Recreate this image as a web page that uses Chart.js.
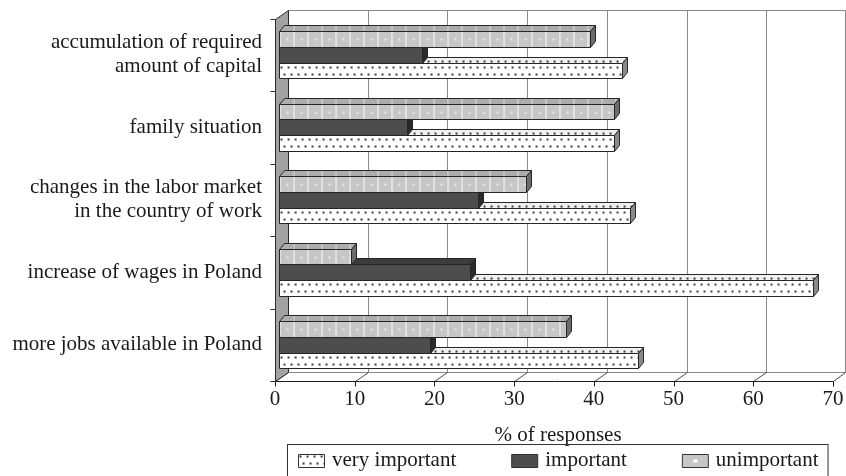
<!DOCTYPE html>
<html><head><meta charset="utf-8">
<script src="https://cdn.jsdelivr.net/npm/chart.js@4.4.1/dist/chart.umd.min.js"></script>
<style>html,body{margin:0;padding:0;background:#fff;}#wrap{width:846px;height:476px;}</style>
</head><body><div id="wrap"><canvas id="c" width="846" height="476"></canvas></div>
<script>
// ---------- data ----------
const categories = [
  ["accumulation of required", "amount of capital"],
  "family situation",
  ["changes in the labor market", "in the country of work"],
  "increase of wages in Poland",
  "more jobs available in Poland"
];
const seriesNames = ["unimportant", "important", "very important"];
const unimportant   = [39, 42, 31, 9, 36];
const important     = [18, 16, 25, 24, 19];
const veryImportant = [43, 42, 44, 67, 45];
const xMin = 0, xMax = 70, xStep = 10;
const axisTitle = "% of responses";

// ---------- styling ----------
const FONT = "'Liberation Serif', 'Times New Roman', serif";
const FS = 21;
const BAR_DX = 5, BAR_DY = 6;          // bar depth
const WALL_FRONT = -4, WALL_BACK = 9;   // x offset of front axis / back wall relative to bar plane
const FLOOR_DY = 9, TOP_DY = 8.5;

function makeTile(w, h, draw) {
  const c = document.createElement('canvas'); c.width = w; c.height = h;
  const g = c.getContext('2d'); draw(g); return c;
}
const tileUn = makeTile(14, 40, g => {
  g.fillStyle = '#c6c6c6'; g.fillRect(0, 0, 14, 40);
  g.fillStyle = '#ffffff'; g.fillRect(0, 0, 1, 40);
  g.fillStyle = '#eeeeee'; g.fillRect(7, 7, 2, 2);
});
const tileVI = makeTile(7, 14, g => {
  g.fillStyle = '#ffffff'; g.fillRect(0, 0, 7, 14);
  g.fillStyle = '#444444'; g.fillRect(1, 3, 2, 2); g.fillRect(4, 10, 2, 2);
});

const canvas = document.getElementById('c');
const ctx0 = canvas.getContext('2d');
const patUn = ctx0.createPattern(tileUn, 'repeat');
const patVI = ctx0.createPattern(tileVI, 'repeat');

const seriesStyle = {
  "unimportant":    {front: patUn, top: patUn, topShade: 'rgba(0,0,0,0.13)', end: '#6c6c6c'},
  "important":      {front: '#4d4d4d', top: '#3c3c3c', topShade: null, end: '#2a2a2a'},
  "very important": {front: patVI, top: patVI, topShade: 'rgba(0,0,0,0.06)', end: '#8a8a8a'}
};
const seriesValues = [unimportant, important, veryImportant];

function poly(ctx, pts) {
  ctx.beginPath(); ctx.moveTo(pts[0][0], pts[0][1]);
  for (let i = 1; i < pts.length; i++) ctx.lineTo(pts[i][0], pts[i][1]);
  ctx.closePath();
}
function line(ctx, x1, y1, x2, y2) { ctx.beginPath(); ctx.moveTo(x1, y1); ctx.lineTo(x2, y2); ctx.stroke(); }
function setFill(ctx, f, ox, oy) {
  if (f instanceof CanvasPattern) f.setTransform(new DOMMatrix([1, 0, 0, 1, ox, oy]));
  ctx.fillStyle = f;
}

const threeD = {
  id: 'threeD',
  beforeDatasetsDraw(chart) {
    const {ctx, chartArea: a, scales: {x, y}} = chart;
    const fx = v => Math.round(x.getPixelForValue(v) + WALL_FRONT) + 0.5;
    const bx = v => Math.min(Math.round(x.getPixelForValue(v) + WALL_BACK) + 0.5, chart.width - 0.5);
    const floorF = Math.round(a.bottom) + 0.5, floorB = Math.round(a.bottom - FLOOR_DY) + 0.5;
    const topF = Math.round(a.top) + 0.5, topB = Math.round(a.top - TOP_DY) + 0.5;
    ctx.save();
    ctx.lineWidth = 1;
    ctx.strokeStyle = '#8a8a8a';
    for (let v = xMin; v <= xMax; v += xStep) line(ctx, bx(v), topB, bx(v), floorB);
    line(ctx, bx(xMin), topB, bx(xMax), topB);
    line(ctx, bx(xMin), floorB, bx(xMax), floorB);
    ctx.strokeStyle = '#4a4a4a';
    for (let v = xMin; v <= xMax; v += xStep) line(ctx, fx(v), floorF, bx(v), floorB);
    ctx.strokeStyle = '#1e1e1e';
    line(ctx, fx(xMin), floorF, fx(xMax), floorF);
    for (let v = xMin; v <= xMax; v += xStep) line(ctx, fx(v), floorF, fx(v), floorF + 5);
    poly(ctx, [[fx(xMin), topF], [bx(xMin), topB], [bx(xMin), floorB], [fx(xMin), floorF]]);
    ctx.fillStyle = '#a2a2a2'; ctx.fill();
    ctx.strokeStyle = '#2a2a2a'; ctx.stroke();
    const n = categories.length;
    const band = (y.bottom - y.top) / n;
    for (let k = 0; k <= n; k++) {
      const py = Math.round(y.top + k * band) + 0.5;
      line(ctx, fx(xMin) - 5, py, fx(xMin), py);
    }
    ctx.restore();
  },
  afterDatasetsDraw(chart) {
    const {ctx} = chart;
    const nDs = chart.data.datasets.length;
    ctx.save();
    ctx.lineWidth = 1;
    ctx.strokeStyle = '#262626';
    for (let i = 0; i < categories.length; i++) {
      for (let d = nDs - 1; d >= 0; d--) {
        const el = chart.getDatasetMeta(d).data[i];
        const st = seriesStyle[chart.data.datasets[d].label];
        const p = el.getProps(['x', 'y', 'base', 'height'], true);
        const b = Math.round(p.base) + 0.5, e = Math.round(p.x) + 0.5;
        const t = Math.round(p.y - p.height / 2) + 0.5, bt = Math.round(p.y + p.height / 2) + 0.5;
        poly(ctx, [[b, t], [b + BAR_DX, t - BAR_DY], [e + BAR_DX, t - BAR_DY], [e, t]]);
        setFill(ctx, st.top, b, t - BAR_DY); ctx.fill();
        if (st.topShade) { ctx.fillStyle = st.topShade; ctx.fill(); }
        ctx.stroke();
        poly(ctx, [[e, t], [e + BAR_DX, t - BAR_DY], [e + BAR_DX, bt - BAR_DY], [e, bt]]);
        ctx.fillStyle = st.end; ctx.fill(); ctx.stroke();
        ctx.beginPath(); ctx.rect(b, t, e - b, bt - t);
        setFill(ctx, st.front, b, t); ctx.fill(); ctx.stroke();
      }
    }
    ctx.restore();
  }
};

const legendBox = {
  id: 'legendBox',
  afterDraw(chart) {
    const {ctx, chartArea: a} = chart;
    ctx.save();
    ctx.font = FS + 'px ' + FONT;
    const items = chart.data.datasets.slice().reverse().map(ds => ({text: ds.label}));
    const sw = 26, sh = 13, gapT = 8, gapI = 55;
    const widths = items.map(it => sw + gapT + ctx.measureText(it.text).width);
    const total = widths.reduce((s, w) => s + w, 0) + gapI * (items.length - 1);
    let cx = Math.round((a.left + a.right) / 2 - total / 2);
    const top = Math.round(a.bottom + 63) + 0.5;
    const cy = top + 16;
    ctx.lineWidth = 1; ctx.strokeStyle = '#333333';
    ctx.strokeRect(cx - 10.5, top, total + 20, 60);
    items.forEach((it, k) => {
      const sx = cx + 0.5, sy = Math.round(cy - sh / 2) + 0.5;
      ctx.beginPath(); ctx.rect(sx, sy, sw, sh);
      if (it.text === 'unimportant') {
        ctx.fillStyle = '#c6c6c6'; ctx.fill();
        ctx.fillStyle = '#ffffff'; ctx.fillRect(sx + 11, sy + 5, 4, 3);
      } else if (it.text === 'very important') {
        setFill(ctx, patVI, sx, sy - 2); ctx.fill();
      } else {
        ctx.fillStyle = '#4d4d4d'; ctx.fill();
      }
      ctx.strokeStyle = '#333333'; ctx.stroke();
      ctx.fillStyle = '#1a1a1a';
      ctx.textAlign = 'left'; ctx.textBaseline = 'middle';
      ctx.fillText(it.text, cx + sw + gapT, cy);
      cx += widths[k] + gapI;
    });
    ctx.restore();
  }
};

new Chart(canvas, {
  type: 'bar',
  data: {
    labels: categories,
    datasets: seriesNames.map((name, k) => ({
      label: name,
      data: seriesValues[k],
      backgroundColor: seriesStyle[name].front,
      borderColor: '#262626',
      borderWidth: 1,
      borderSkipped: false,
      categoryPercentage: 0.65,
      barPercentage: 1.0
    }))
  },
  options: {
    indexAxis: 'y',
    responsive: false,
    devicePixelRatio: 1,
    animation: false,
    layout: {padding: {top: 18.5, right: 9, left: 0, bottom: 0}},
    plugins: {legend: {display: false}, tooltip: {enabled: false}},
    scales: {
      x: {
        min: xMin, max: xMax,
        grid: {display: false, drawTicks: false},
        border: {display: false},
        ticks: {stepSize: xStep, padding: 6, labelOffset: WALL_FRONT, color: '#1a1a1a', font: {family: FONT, size: FS}},
        title: {display: true, text: axisTitle, color: '#1a1a1a', font: {family: FONT, size: FS}, padding: {top: 0, bottom: 28}},
        afterFit(s) { s.height = 95; s.paddingLeft = 0; s.paddingRight = 0; }
      },
      y: {
        grid: {display: false, drawTicks: false},
        border: {display: false},
        ticks: {padding: 17, color: '#1a1a1a', font: {family: FONT, size: FS, lineHeight: 1.14}},
        afterFit(s) { s.width = 279; s.paddingTop = 0; s.paddingBottom = 0; }
      }
    }
  },
  plugins: [threeD, legendBox]
});
</script>
</body></html>
